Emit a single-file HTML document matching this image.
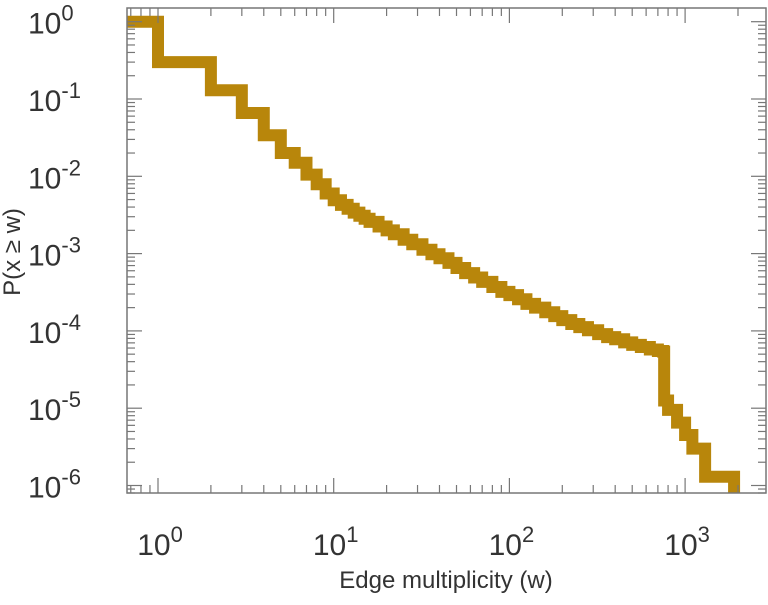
<!DOCTYPE html>
<html><head><meta charset="utf-8"><style>
body{margin:0;background:#fff;width:768px;height:600px;overflow:hidden}
svg text{font-family:"Liberation Sans",sans-serif;fill:#333}
</style></head><body>
<svg id="chart" width="768" height="600" viewBox="0 0 768 600"></svg>
<script>
const wVals=[0.67,1,2,3,4,5,6,7,8,9,10,11,12,13,14,15,16,18,20,22,25,28,32,36,40,45,50,56,63,70,80,90,100,112,125,140,160,180,200,225,250,280,320,360,400,450,500,560,630,700,750,760,800,900,1000,1100,1300,1900,1900];
const pVals=[1,0.30,0.13,0.066,0.034,0.020,0.015,0.0105,0.0079,0.006,0.0049,4.27e-3,3.8e-3,3.39e-3,3.09e-3,2.82e-3,2.57e-3,2.24e-3,2.0e-3,1.78e-3,1.51e-3,1.32e-3,1.12e-3,9.8e-4,8.7e-4,7.6e-4,6.5e-4,5.6e-4,4.9e-4,4.3e-4,3.7e-4,3.2e-4,2.9e-4,2.57e-4,2.24e-4,2.0e-4,1.74e-4,1.55e-4,1.38e-4,1.23e-4,1.12e-4,1.02e-4,9.1e-5,8.3e-5,7.8e-5,7.1e-5,6.6e-5,6.2e-5,5.75e-5,5.5e-5,5.4e-5,0.0000126,0.0000095,0.0000065,0.0000045,0.000003,0.0000013,0.0000013,0.0000008];
const xTicks=[0,1,2,3];
const yTicks=[0,-1,-2,-3,-4,-5,-6];
const NS="http://www.w3.org/2000/svg";
const svg=document.getElementById('chart');
const L=127,R=766,T=8,B=493;
const x0=158,dx=175.7,y0=21.7,dy=77.3;
const X=w=>x0+dx*Math.log10(w);
const Y=p=>y0-dy*Math.log10(p);
function el(t,a,parent){const e=document.createElementNS(NS,t);for(const k in a)e.setAttribute(k,a[k]);(parent||svg).appendChild(e);return e;}
const defs=el('defs',{});const cp=el('clipPath',{id:'c'},defs);el('rect',{x:L,y:T,width:R-L,height:B-T},cp);
let d='';
for(let i=0;i<wVals.length;i++){
  const x=X(wVals[i]),y=Y(pVals[i]);
  if(i===0)d+='M'+x+','+y;else d+=' H'+x+' V'+y;
}
const line=el('path',{d:d,fill:'none',stroke:'#b8860b','stroke-width':12,'stroke-linejoin':'miter','clip-path':'url(#c)'});


const frame=el('rect',{x:L,y:T,width:R-L,height:B-T,fill:'none',stroke:'#777','stroke-width':1.5});


const tk={stroke:'#777','stroke-width':1.2};
for(let e=-1;e<=3;e++){for(let m=1;m<10;m++){
  const x=X(m*Math.pow(10,e)); if(x<L||x>R)continue;
  const len=m===1?15:8;
  el('line',Object.assign({x1:x,x2:x,y1:B,y2:B-len},tk));
  el('line',Object.assign({x1:x,x2:x,y1:T,y2:T+len},tk));
}}
for(let e=-7;e<=0;e++){for(let m=1;m<10;m++){
  const y=Y(m*Math.pow(10,e)); if(y<T||y>B)continue;
  const len=m===1?15:8;
  el('line',Object.assign({x1:L,x2:L+len,y1:y,y2:y},tk));
  el('line',Object.assign({x1:R,x2:R-len,y1:y,y2:y},tk));
}}
xTicks.forEach(e=>{
  const t=el('text',{x:X(Math.pow(10,e))+2,y:555,'font-size':30,'text-anchor':'middle'});
  
  
  t.innerHTML='10<tspan dy="-13" font-size="22">'+e+'</tspan>';
});
yTicks.forEach(e=>{
  const t=el('text',{x:28,y:Y(Math.pow(10,e))+12,'font-size':30});
  
  
  t.innerHTML='10<tspan dy="-13" font-size="22">'+e+'</tspan>';
});
const xl=el('text',{x:446,y:588,'font-size':24,'text-anchor':'middle'});xl.textContent='Edge multiplicity (w)';


const yl=el('text',{x:0,y:0,'font-size':24,'text-anchor':'middle',transform:'translate(20,252) rotate(-90)'});yl.textContent='P(x \u2265 w)';


</script>
</body></html>
